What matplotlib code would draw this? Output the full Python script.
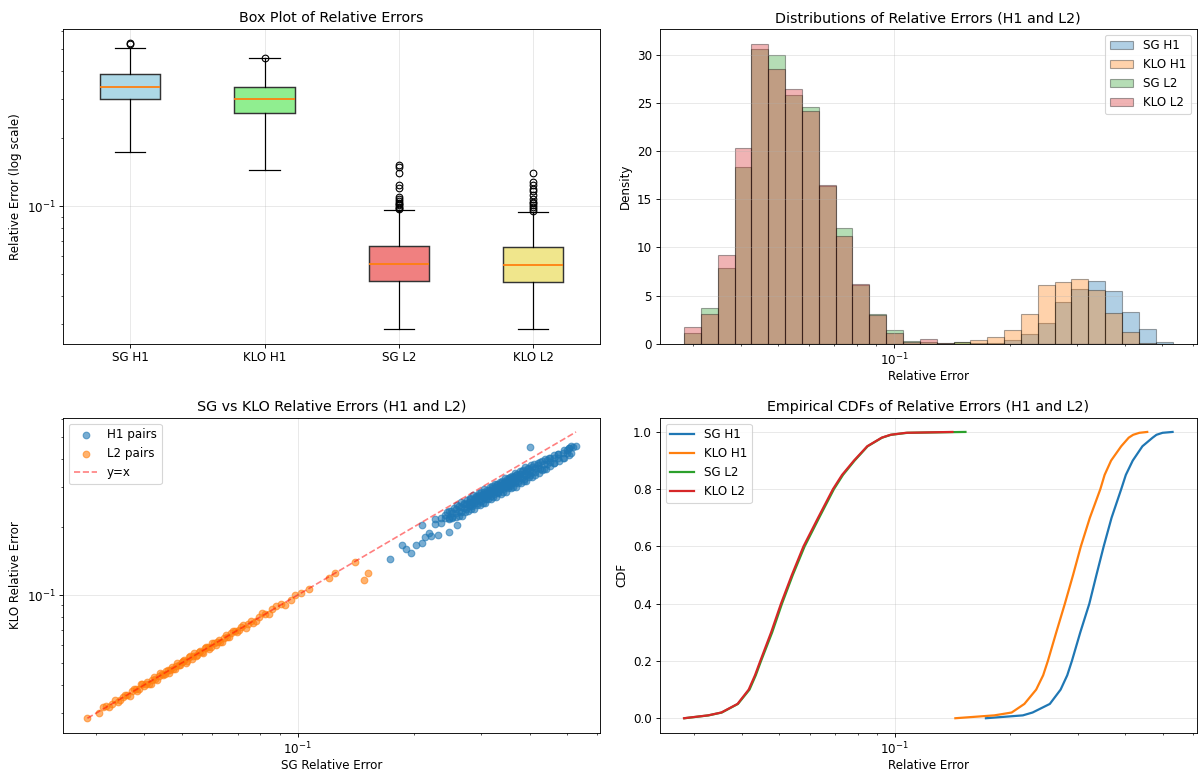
import numpy as np
import matplotlib
matplotlib.use("Agg")
from matplotlib import pyplot as plt

plt.rcParams['font.size'] = 10.7

labels = ['SG H1', 'KLO H1', 'SG L2', 'KLO L2']
box_colors = ['lightblue', 'lightgreen', 'lightcoral', 'khaki']

# box plot summaries: whisker low, q1, median, q3, whisker high, outliers
box_whislo = [0.174, 0.145, 0.0285, 0.0285]
box_q1 = [0.299, 0.259, 0.0466, 0.0461]
box_med = [0.339, 0.299, 0.0553, 0.0549]
box_q3 = [0.385, 0.337, 0.0670, 0.0661]
box_whishi = [0.505, 0.453, 0.0963, 0.0944]
box_fliers = [
    [0.525, 0.530],
    [0.455],
    [0.153, 0.150, 0.141, 0.125, 0.121, 0.110, 0.108, 0.106, 0.104,
     0.102, 0.101, 0.0995, 0.0985, 0.0975],
    [0.140, 0.128, 0.124, 0.120, 0.117, 0.112, 0.108, 0.105, 0.103,
     0.101, 0.099, 0.097, 0.0955],
]

# histogram densities on 29 log-spaced bins
hist_lo, hist_hi, n_bins = 0.0284, 0.5315, 29
dens_sg_h1 = [0, 0, 0, 0, 0, 0, 0, 0, 0, 0, 0, 0, 0, 0, 0, 0, 0,
              0.06, 0.11, 0.36, 1.04, 2.17, 4.31, 5.64, 6.56, 5.47, 3.29, 1.48, 0.15]
dens_klo_h1 = [0, 0, 0, 0, 0, 0, 0, 0, 0, 0, 0, 0, 0, 0, 0, 0, 0.13,
               0.36, 0.74, 1.41, 3.09, 6.05, 6.39, 6.77, 5.57, 3.19, 1.21, 0.1, 0]
dens_sg_l2 = [1.07, 3.7, 7.85, 18.35, 30.6, 29.98, 25.85, 24.66, 16.4, 12.05,
              6.15, 3.09, 1.38, 0.25, 0.2, 0.07, 0.13, 0, 0, 0, 0, 0, 0, 0, 0, 0, 0, 0, 0]
dens_klo_l2 = [1.76, 3.09, 9.19, 20.3, 31.2, 28.58, 26.5, 24.15, 16.55, 11.15,
               6.2, 2.95, 1.14, 0.2, 0.43, 0.07, 0, 0, 0, 0, 0, 0, 0, 0, 0, 0, 0, 0, 0]

# H1 pairs (SG, KLO)
sg_h1_pts = [
    0.228, 0.235, 0.241, 0.247, 0.252, 0.257, 0.262, 0.266, 0.270, 0.274,
    0.278, 0.281, 0.284, 0.287, 0.290, 0.293, 0.296, 0.299, 0.302, 0.305,
    0.308, 0.311, 0.314, 0.317, 0.320, 0.323, 0.326, 0.329, 0.332, 0.335,
    0.338, 0.341, 0.344, 0.347, 0.350, 0.353, 0.356, 0.359, 0.362, 0.366,
    0.370, 0.374, 0.378, 0.382, 0.386, 0.391, 0.396, 0.401, 0.407, 0.413,
    0.420, 0.427, 0.435, 0.444, 0.453, 0.463, 0.475, 0.488, 0.500, 0.512,
    0.228, 0.235, 0.241, 0.247, 0.252, 0.257, 0.262, 0.266, 0.270, 0.274,
    0.278, 0.281, 0.284, 0.287, 0.290, 0.293, 0.296, 0.299, 0.302, 0.305,
    0.308, 0.311, 0.314, 0.317, 0.320, 0.323, 0.326, 0.329, 0.332, 0.335,
    0.338, 0.341, 0.344, 0.347, 0.350, 0.353, 0.356, 0.359, 0.362, 0.366,
    0.370, 0.374, 0.378, 0.382, 0.386, 0.391, 0.396, 0.401, 0.407, 0.413,
    0.420, 0.427, 0.435, 0.444, 0.453, 0.463, 0.475, 0.488, 0.500, 0.512,
    0.245, 0.250, 0.255, 0.260, 0.265, 0.270, 0.275, 0.280, 0.285, 0.290,
    0.295, 0.300, 0.305, 0.310, 0.315, 0.320, 0.325, 0.330, 0.335, 0.340,
    0.345, 0.350, 0.355, 0.360, 0.366, 0.372, 0.378, 0.384, 0.390, 0.397,
    0.404, 0.412, 0.420, 0.430, 0.440, 0.450, 0.462, 0.475, 0.490, 0.505,
    0.247, 0.252, 0.257, 0.262, 0.267, 0.272, 0.277, 0.282, 0.287, 0.292,
    0.297, 0.302, 0.307, 0.312, 0.317, 0.322, 0.327, 0.332, 0.337, 0.342,
    0.347, 0.352, 0.357, 0.362, 0.368, 0.374, 0.380, 0.386, 0.392, 0.399,
    0.406, 0.414, 0.422, 0.432, 0.442, 0.452, 0.464, 0.477, 0.492, 0.507,
    0.402, 0.1736, 0.1865, 0.1911, 0.197, 0.2027, 0.211, 0.211, 0.2142,
    0.2195, 0.2217, 0.231, 0.2466, 0.259, 0.528, 0.506, 0.518,
]
klo_h1_pts = [
    0.2171, 0.2191, 0.2265, 0.2363, 0.2315, 0.2405, 0.2473, 0.2459, 0.2543, 0.2528,
    0.2588, 0.2666, 0.2588, 0.2665, 0.2717, 0.2691, 0.2770, 0.2741, 0.2794, 0.2875,
    0.2789, 0.2870, 0.2924, 0.2893, 0.2976, 0.2942, 0.2997, 0.3082, 0.2988, 0.3072,
    0.3128, 0.3092, 0.3179, 0.3141, 0.3198, 0.3285, 0.3183, 0.3272, 0.3329, 0.3297,
    0.3395, 0.3361, 0.3427, 0.3528, 0.3424, 0.3533, 0.3608, 0.3578, 0.3698, 0.3673,
    0.3766, 0.3896, 0.3808, 0.3956, 0.4065, 0.4063, 0.4237, 0.4253, 0.4386, 0.4565,
    0.2066, 0.2093, 0.2199, 0.2204, 0.2211, 0.2311, 0.2365, 0.2338, 0.2420, 0.2415,
    0.2512, 0.2486, 0.2472, 0.2561, 0.2598, 0.2557, 0.2635, 0.2619, 0.2712, 0.2681,
    0.2663, 0.2758, 0.2796, 0.2749, 0.2831, 0.2811, 0.2909, 0.2874, 0.2854, 0.2952,
    0.2991, 0.2939, 0.3024, 0.3001, 0.3104, 0.3064, 0.3040, 0.3144, 0.3184, 0.3133,
    0.3230, 0.3212, 0.3326, 0.3290, 0.3270, 0.3395, 0.3450, 0.3401, 0.3518, 0.3510,
    0.3655, 0.3634, 0.3637, 0.3800, 0.3888, 0.3862, 0.4032, 0.4064, 0.4257, 0.4257,
    0.2323, 0.2367, 0.2435, 0.2503, 0.2585, 0.2568, 0.2650, 0.2682, 0.2765, 0.2744,
    0.2827, 0.2858, 0.2944, 0.2918, 0.3004, 0.3033, 0.3120, 0.3090, 0.3178, 0.3206,
    0.3295, 0.3260, 0.3350, 0.3377, 0.3476, 0.3444, 0.3545, 0.3578, 0.3681, 0.3651,
    0.3763, 0.3810, 0.3858, 0.3921, 0.4020, 0.4061, 0.4176, 0.4237, 0.4374, 0.4467,
    0.2165, 0.2206, 0.2224, 0.2241, 0.2245, 0.2346, 0.2349, 0.2401, 0.2401, 0.2506,
    0.2506, 0.2559, 0.2557, 0.2666, 0.2662, 0.2716, 0.2710, 0.2822, 0.2816, 0.2870,
    0.2862, 0.2978, 0.2969, 0.3023, 0.3019, 0.3146, 0.3142, 0.3204, 0.3197, 0.3335,
    0.3335, 0.3411, 0.3489, 0.3582, 0.3635, 0.3728, 0.3834, 0.3929, 0.4057, 0.4164,
    0.455, 0.1442, 0.166, 0.1607, 0.1538, 0.1674, 0.2035, 0.171, 0.1807,
    0.1888, 0.1826, 0.184, 0.190, 0.205, 0.456, 0.448, 0.452,
]

# L2 pairs (SG, KLO)
sg_l2_pts = [
    0.0285, 0.0305, 0.0318, 0.033, 0.0342, 0.0352, 0.0362, 0.0372, 0.038, 0.0388,
    0.0396, 0.0404, 0.0412, 0.042, 0.0428, 0.0436, 0.0444, 0.0452, 0.046, 0.0468,
    0.0476, 0.0484, 0.0492, 0.05, 0.0509, 0.0518, 0.0527, 0.0536, 0.0545, 0.0555,
    0.0565, 0.0575, 0.0585, 0.0596, 0.0607, 0.0619, 0.0631, 0.0644, 0.0658, 0.0672,
    0.0688, 0.0705, 0.0724, 0.0745, 0.0768, 0.0795, 0.0825, 0.086, 0.0905, 0.096,
    0.102, 0.107, 0.1206, 0.125, 0.141, 0.149, 0.152,
    0.0312, 0.0324, 0.0336, 0.0347, 0.0357, 0.0367, 0.0376, 0.0384, 0.0392, 0.0400,
    0.0408, 0.0416, 0.0424, 0.0432, 0.0440, 0.0448, 0.0456, 0.0464, 0.0472, 0.0480,
    0.0488, 0.0496, 0.0504, 0.0513, 0.0522, 0.0531, 0.0540, 0.0550, 0.0560, 0.0570,
    0.0580, 0.0590, 0.0601, 0.0613, 0.0625, 0.0637, 0.0651, 0.0665, 0.0680, 0.0696,
    0.0714, 0.0734, 0.0756, 0.0781, 0.0810, 0.0842, 0.0880, 0.0930, 0.0985,
]
klo_l2_pts = [
    0.0285, 0.0302, 0.0323, 0.0330, 0.0337, 0.0354, 0.0360, 0.0376, 0.0384, 0.0384,
    0.0402, 0.0404, 0.0406, 0.0422, 0.0426, 0.0440, 0.0448, 0.0447, 0.0467, 0.0468,
    0.0469, 0.0486, 0.0490, 0.0505, 0.0514, 0.0513, 0.0535, 0.0536, 0.0537, 0.0558,
    0.0562, 0.0581, 0.0591, 0.0590, 0.0616, 0.0619, 0.0622, 0.0647, 0.0655, 0.0679,
    0.0695, 0.0698, 0.0735, 0.0745, 0.0756, 0.0799, 0.0821, 0.0869, 0.0914, 0.0950,
    0.1025, 0.1065, 0.1195, 0.125, 0.140, 0.117, 0.125,
    0.0318, 0.0318, 0.0344, 0.0342, 0.0362, 0.0358, 0.0384, 0.0376, 0.0402, 0.0394,
    0.0414, 0.0406, 0.0432, 0.0423, 0.0451, 0.0441, 0.0463, 0.0452, 0.0481, 0.0470,
    0.0500, 0.0489, 0.0512, 0.0500, 0.0532, 0.0520, 0.0554, 0.0542, 0.0568, 0.0556,
    0.0592, 0.0578, 0.0616, 0.0604, 0.0634, 0.0621, 0.0664, 0.0652, 0.0697, 0.0686,
    0.0725, 0.0716, 0.0771, 0.0765, 0.0830, 0.0829, 0.0893, 0.0907, 0.1005,
]

# empirical CDF read at fixed levels
cdf_levels = [0, 0.01, 0.02, 0.05, 0.10, 0.15, 0.20, 0.30, 0.40, 0.50,
              0.60, 0.70, 0.80, 0.85, 0.90, 0.95, 0.98, 0.99, 0.997, 1.0]
cdf_sg_h1 = [0.173, 0.216, 0.229, 0.254, 0.271, 0.282, 0.290, 0.305, 0.322, 0.336,
             0.351, 0.368, 0.390, 0.401, 0.418, 0.443, 0.471, 0.482, 0.500, 0.531]
cdf_klo_h1 = [0.144, 0.182, 0.202, 0.218, 0.234, 0.244, 0.251, 0.264, 0.278, 0.292,
              0.306, 0.323, 0.344, 0.353, 0.367, 0.390, 0.408, 0.419, 0.435, 0.456]
cdf_sg_l2 = [0.0283, 0.0327, 0.0354, 0.0390, 0.0418, 0.0434, 0.0448, 0.0479, 0.0508, 0.0542,
             0.0582, 0.0635, 0.0694, 0.0733, 0.0786, 0.0850, 0.0927, 0.0978, 0.1080, 0.153]
cdf_klo_l2 = [0.0282, 0.0326, 0.0353, 0.0389, 0.0416, 0.0432, 0.0446, 0.0476, 0.0505, 0.0539,
              0.0578, 0.0631, 0.0690, 0.0729, 0.0783, 0.0848, 0.0925, 0.0975, 0.1070, 0.1415]

fig, axes = plt.subplots(2, 2, figsize=(15, 9.7), dpi=80)
fig.subplots_adjust(left=0.0525, right=0.9975, bottom=0.056, top=0.963,
                    wspace=0.11, hspace=0.235)
ax1, ax2, ax3, ax4 = axes.ravel()

# box plot
stats = []
for i in range(4):
    stats.append(dict(label=labels[i], whislo=box_whislo[i], q1=box_q1[i],
                      med=box_med[i], q3=box_q3[i], whishi=box_whishi[i],
                      fliers=box_fliers[i]))
bp = ax1.bxp(stats, patch_artist=True, widths=0.45,
             boxprops=dict(linewidth=1.3, edgecolor='#333333'),
             medianprops=dict(color='C1', linewidth=1.6),
             whiskerprops=dict(linewidth=1.1),
             capprops=dict(linewidth=1.1))
for patch, color in zip(bp['boxes'], box_colors):
    patch.set_facecolor(color)
ax1.set_yscale('log')
ax1.set_title('Box Plot of Relative Errors')
ax1.set_ylabel('Relative Error (log scale)')
ax1.grid(True, alpha=0.3)

# histograms
edges = np.logspace(np.log10(hist_lo), np.log10(hist_hi), n_bins + 1)
for dens, lab in zip([dens_sg_h1, dens_klo_h1, dens_sg_l2, dens_klo_l2], labels):
    ax2.bar(edges[:-1], dens, width=np.diff(edges), align='edge',
            alpha=0.35, edgecolor='black', label=lab)
ax2.set_xscale('log')
ax2.set_title('Distributions of Relative Errors (H1 and L2)')
ax2.set_xlabel('Relative Error', labelpad=2)
ax2.set_ylabel('Density')
ax2.legend(loc='upper right')
ax2.grid(True, alpha=0.3)

# scatter SG vs KLO
ax3.scatter(sg_h1_pts, klo_h1_pts, alpha=0.6, label='H1 pairs')
ax3.scatter(sg_l2_pts, klo_l2_pts, alpha=0.6, label='L2 pairs')
lo = min(min(sg_l2_pts), min(klo_l2_pts))
hi = max(max(sg_h1_pts), max(klo_h1_pts))
ax3.plot([lo, hi], [lo, hi], 'r--', alpha=0.5, label='y=x')
ax3.set_xscale('log')
ax3.set_yscale('log')
ax3.set_title('SG vs KLO Relative Errors (H1 and L2)')
ax3.set_xlabel('SG Relative Error', labelpad=2)
ax3.set_ylabel('KLO Relative Error')
ax3.legend(loc='upper left')
ax3.grid(True, alpha=0.3)

# CDFs
for vals, lab in zip([cdf_sg_h1, cdf_klo_h1, cdf_sg_l2, cdf_klo_l2], labels):
    ax4.plot(vals, cdf_levels, linewidth=2, label=lab)
ax4.set_xscale('log')
ax4.set_title('Empirical CDFs of Relative Errors (H1 and L2)')
ax4.set_xlabel('Relative Error', labelpad=2)
ax4.set_ylabel('CDF')
ax4.legend(loc='upper left')
ax4.grid(True, alpha=0.3)

plt.savefig('out.png', dpi=80)
